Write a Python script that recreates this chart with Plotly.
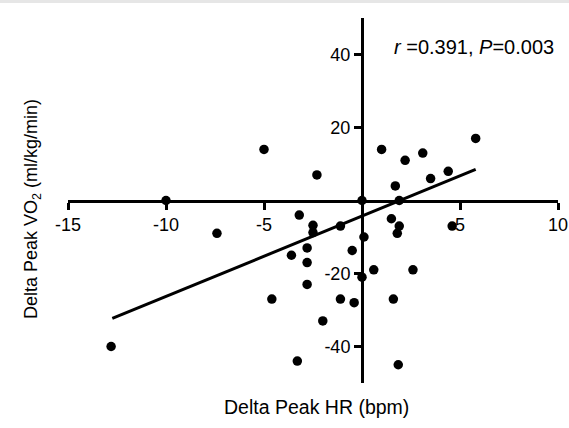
import plotly.graph_objects as go

# Data
delta_hr = [-12.8, -10.0, -7.4, -5.0, -4.6, -3.6, -3.3, -3.2, -2.8, -2.8,
            -2.8, -2.5, -2.5, -2.3, -2.0, -1.1, -1.1, -0.5, -0.4, 0.0,
            0.1, 0.0, 0.6, 1.0, 1.5, 1.6, 1.7, 1.8, 1.85, 1.9,
            1.9, 2.2, 2.6, 3.1, 3.5, 4.4, 4.6, 5.8]
delta_vo2 = [-40, 0, -9, 14, -27, -15, -44, -4, -13, -17,
             -23, -6.8, -8.8, 7, -33, -7, -27, -13.7, -28, 0,
             -10, -21, -19, 14, -5, -27, 4, -9, -45, -7,
             0, 11, -19, 13, 6, 8, -7, 17]
fit_x = [-12.74, 5.8]
fit_y = [-32.3, 8.5]
x_ticks = [-15, -10, -5, 5, 10]
y_ticks = [-40, -20, 20, 40]

FONT = "Liberation Sans, Arial, Helvetica, sans-serif"

fig = go.Figure()
fig.add_trace(go.Scatter(x=fit_x, y=fit_y, mode="lines",
                         line=dict(color="black", width=3), hoverinfo="skip"))
fig.add_trace(go.Scatter(x=delta_hr, y=delta_vo2, mode="markers",
                         marker=dict(color="black", size=9.5)))

W, H = 569, 428
PL, PR, PT, PB = 68, 558, 18, 383  # plot area in window pixels
ml, mr, mt, mb = PL, W - PR, PT, H - PB
pw, ph = PR - PL, PB - PT


def px(x):
    return (x - PL) / pw


def py(y):
    return (PB - y) / ph


fig.update_layout(
    width=W, height=H,
    margin=dict(l=ml, r=mr, t=mt, b=mb, autoexpand=False),
    paper_bgcolor="white", plot_bgcolor="white",
    showlegend=False,
    font=dict(family=FONT, size=18, color="black"),
    xaxis=dict(range=[-15, 10], anchor="free", position=0.5,
               showline=True, linecolor="black", linewidth=3,
               ticks="outside", ticklen=7, tickwidth=3, tickcolor="black",
               tickvals=x_ticks, ticktext=[str(v) for v in x_ticks],
               showgrid=False, zeroline=False, automargin=False,
               tickfont=dict(size=18, family=FONT)),
    yaxis=dict(range=[-50, 50], anchor="free", position=0.6,
               showline=True, linecolor="black", linewidth=3,
               ticks="outside", ticklen=7, tickwidth=3, tickcolor="black",
               tickvals=y_ticks, ticktext=[str(v) for v in y_ticks],
               showgrid=False, zeroline=False, automargin=False,
               tickfont=dict(size=18, family=FONT)),
    annotations=[
        dict(text="Delta Peak HR (bpm)", xref="paper", yref="paper",
             x=px(316.7), y=py(406.7),
             xanchor="center", yanchor="middle", showarrow=False,
             font=dict(size=19.5, family=FONT)),
        dict(text="Delta Peak VO<sub>2</sub> (ml/kg/min)", xref="paper", yref="paper",
             x=px(33), y=py(209), textangle=-90,
             xanchor="center", yanchor="middle", showarrow=False,
             font=dict(size=18, family=FONT)),
        dict(text="<i>r</i> =0.391, <i>P</i>=0.003", xref="paper", yref="paper",
             x=px(392), y=py(47),
             xanchor="left", yanchor="middle", showarrow=False,
             font=dict(size=20, family=FONT)),
    ],
    shapes=[
        dict(type="rect", xref="paper", yref="paper",
             x0=-PL / pw, x1=(W - PL) / pw,
             y0=py(3), y1=py(0),
             fillcolor="#e6e6e6", line=dict(width=0), layer="below"),
    ],
)

fig.write_html(
    "out.html",
    config={"displayModeBar": False},
    post_script="document.body.style.margin='0';document.body.style.overflow='hidden';",
)
